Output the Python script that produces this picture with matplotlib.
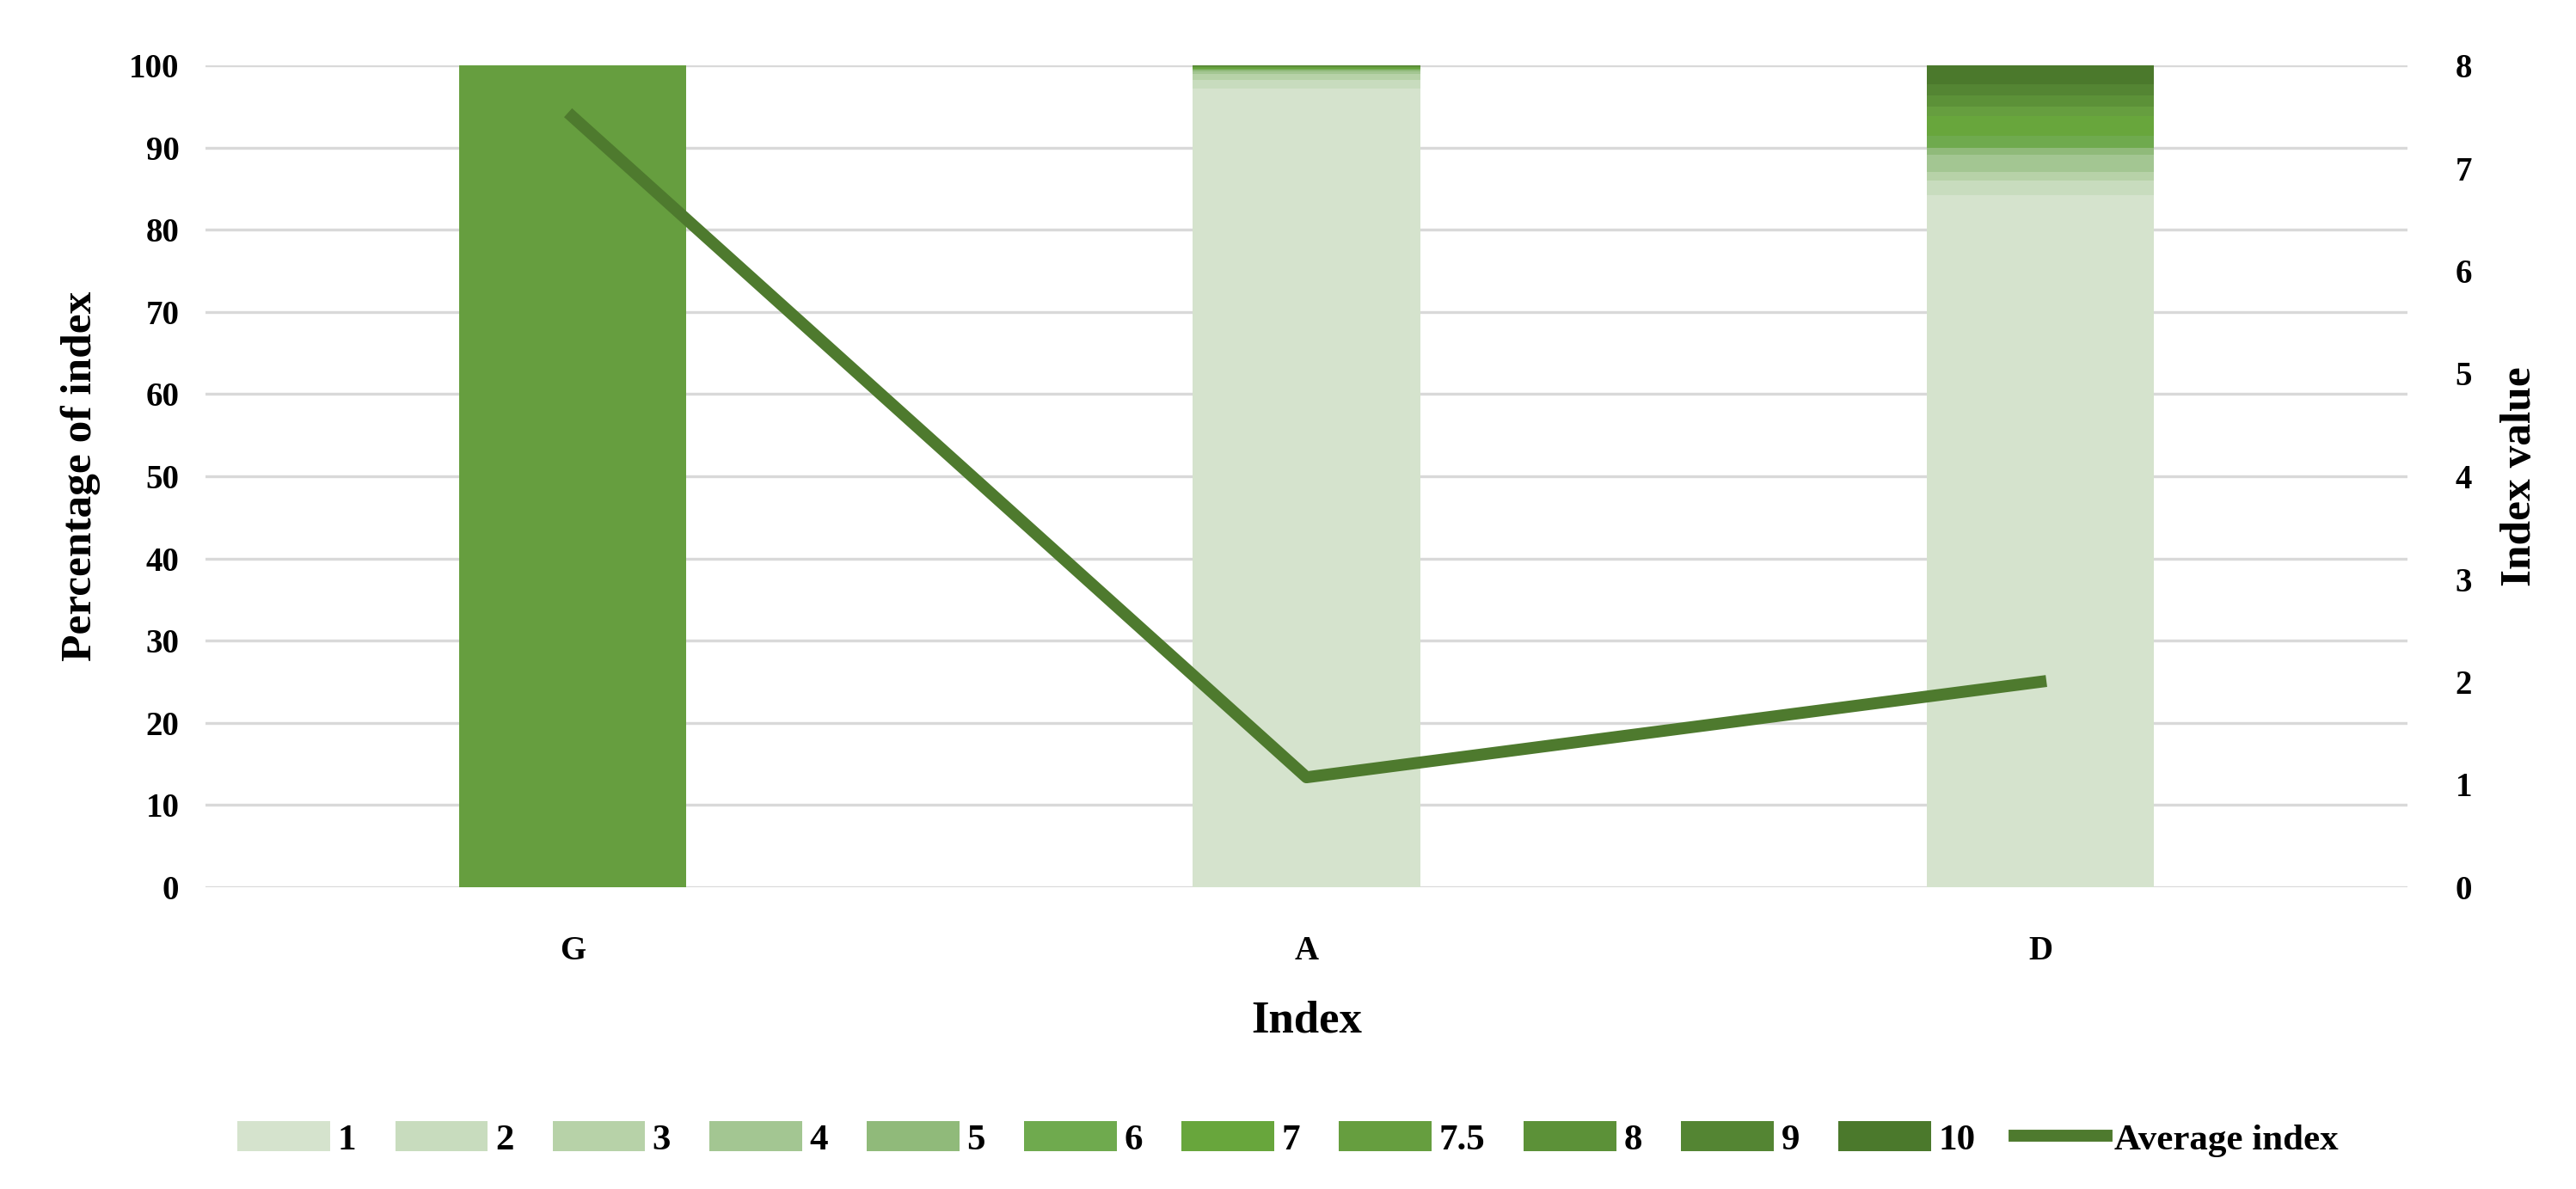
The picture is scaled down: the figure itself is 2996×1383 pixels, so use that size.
import numpy as np
import matplotlib.pyplot as plt
from matplotlib.patches import Patch
from matplotlib.lines import Line2D

plt.rcParams['font.family'] = ['Liberation Serif', 'DejaVu Serif']
plt.rcParams['font.weight'] = 'bold'
plt.rcParams['axes.labelweight'] = 'bold'

categories = ["G", "A", "D"]
levels = ["1", "2", "3", "4", "5", "6", "7", "7.5", "8", "9", "10"]
# percentage of each index level per category (bottom to top)
shares = {
    "1":   [0, 97.2, 84.2],
    "2":   [0, 1.0, 1.8],
    "3":   [0, 0.8, 1.0],
    "4":   [0, 0.3, 2.1],
    "5":   [0, 0.2, 0.9],
    "6":   [0, 0.1, 1.4],
    "7":   [0, 0.1, 2.4],
    "7.5": [100, 0.1, 1.2],
    "8":   [0, 0.1, 1.3],
    "9":   [0, 0.05, 1.4],
    "10":  [0, 0.05, 2.3],
}
average_index = [7.5, 1.07, 2.0]

colors = ["#D5E3CD", "#C8DCBE", "#B7D2A8", "#A3C692", "#90BA7A", "#6FAA4E",
          "#68A63C", "#669E3F", "#5C9138", "#548533", "#4B792C"]
line_color = "#4E7A2E"

fig = plt.figure(figsize=(29.96, 13.83), dpi=100)
ax = fig.add_axes([239 / 2996, 1 - 1032 / 1383, (2800 - 239) / 2996, (1032 - 76) / 1383])

x = np.arange(len(categories))
bottom = np.zeros(len(categories))
for lev, col in zip(levels, colors):
    vals = np.array(shares[lev])
    ax.bar(x, vals, 0.31, bottom=bottom, color=col, zorder=2)
    bottom += vals

ax.set_xlim(-0.5, 2.5)
ax.set_ylim(0, 100)
ax.set_yticks(np.arange(0, 101, 10))
ax.grid(axis="y", color="#D9D9D9", linewidth=2.4, zorder=0)
ax.set_axisbelow(True)
for s in ax.spines.values():
    s.set_visible(False)
ax.tick_params(length=0, labelsize=28, pad=22)
ax.tick_params(axis="x", pad=40)
ax.set_xticks(x)
ax.set_xticklabels(categories)
ax.set_ylabel("Percentage of index", fontsize=37, labelpad=24)
ax.set_xlabel("Index", fontsize=38, labelpad=28)

ax2 = ax.twinx()
ax2.plot(x, average_index, color=line_color, linewidth=10, zorder=5)
ax2.set_ylim(0, 8)
for s in ax2.spines.values():
    s.set_visible(False)
ax2.tick_params(length=0, labelsize=28, pad=40)
ax2.set_ylabel("Index value", fontsize=37, labelpad=24)

handles = [Patch(facecolor=c, label=l) for l, c in zip(levels, colors)]
handles.append(Line2D([], [], color=line_color, linewidth=10, label="Average index"))
fig.legend(handles=handles, loc="center", bbox_to_anchor=(0.5, 1 - 1325 / 1383),
           ncol=12, frameon=False, fontsize=31, handlelength=2.5, handleheight=0.85,
           handletextpad=0.2, columnspacing=1.05)

fig.savefig("out.png", dpi=100)
